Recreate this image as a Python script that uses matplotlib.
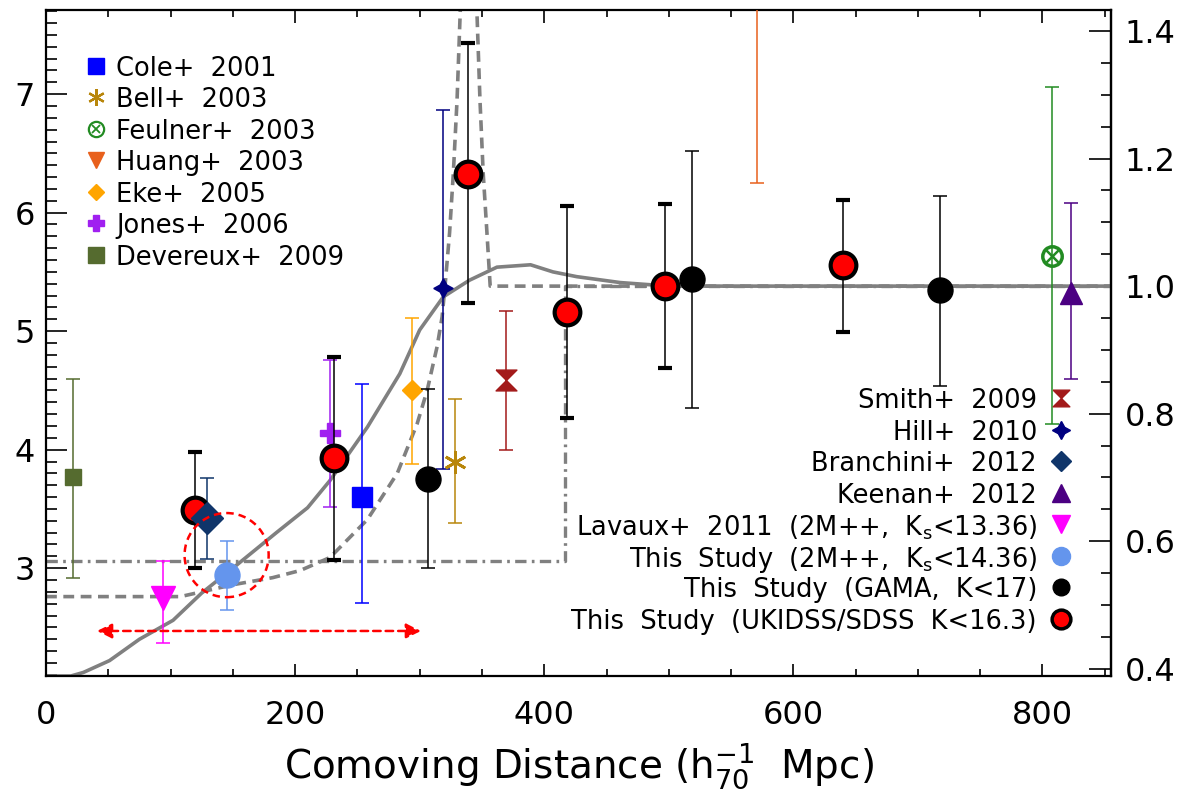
import numpy as np
import matplotlib
matplotlib.use("Agg")
import matplotlib.pyplot as plt
from matplotlib.patches import Ellipse
from matplotlib.ticker import MultipleLocator, FixedLocator, FormatStrFormatter

plt.rcParams['font.family'] = ['DejaVu Sans']
plt.rcParams['mathtext.fontset'] = 'dejavusans'

# global value used to normalise the right-hand axis
RHO_GLOBAL = 5.38

# model curves (distance in h70^-1 Mpc)
smooth_d = [0, 20, 30, 51, 75, 102, 125, 150, 185, 210, 228, 258, 284, 300, 319,
            340, 362, 389, 407, 426, 461, 500, 855]
smooth_rho = [2.09, 2.09, 2.12, 2.22, 2.40, 2.56, 2.79, 3.00, 3.30, 3.51, 3.74, 4.19,
              4.64, 5.01, 5.29, 5.43, 5.54, 5.56, 5.50, 5.46, 5.41, 5.38, 5.38]
spike_d = [0, 108, 129, 150, 182, 204, 228, 258, 282, 298, 306, 314, 318, 320.5, 324,
           327, 330, 332.5, 339.5, 346, 348.4, 351, 354, 356.6, 855]
spike_rho = [2.76, 2.76, 2.81, 2.86, 2.92, 2.98, 3.09, 3.41, 3.80, 4.22, 4.50, 4.87,
             5.12, 5.40, 5.83, 6.33, 6.95, 7.68, 9.6, 7.68, 6.95, 6.33, 5.83, 5.38, 5.38]
step_d = [0, 417, 417, 855]
step_rho = [3.06, 3.06, 5.38, 5.38]

# this study: distance, density, lower, upper
ukidss_d = [120, 231, 339, 418, 497, 640]
ukidss_rho = [3.49, 3.93, 6.33, 5.16, 5.38, 5.56]
ukidss_lo = [3.00, 3.07, 5.24, 4.27, 4.69, 4.99]
ukidss_hi = [3.98, 4.78, 7.43, 6.06, 6.07, 6.11]

gama_d = [307, 519, 718]
gama_rho = [3.75, 5.44, 5.35]
gama_lo = [3.00, 4.35, 4.54]
gama_hi = [4.51, 6.52, 6.14]

twomass = [145, 2.94, 2.65, 3.23]

# literature: distance, density, lower, upper
cole = [254, 3.60, 2.71, 4.55]
bell = [328, 3.90, 3.38, 4.43]
feulner = [808, 5.63, 4.22, 7.06]
huang = [571, 8.60, 6.25, 10.95]
eke = [294, 4.50, 3.88, 5.11]
jones = [228, 4.14, 3.52, 4.76]
devereux = [22, 3.77, 2.92, 4.60]
smith = [369, 4.59, 4.00, 5.17]
hill = [319, 5.36, 3.84, 6.87]
branchini = [129, 3.42, 3.08, 3.76]
keenan = [823, 5.32, 4.60, 6.08]
lavaux = [94, 2.75, 2.37, 3.06]

# extent of the local hole (arrow) and the 2M++ circle
hole_range = [41, 301, 2.47]
circle_c = [145, 3.11]

right_ticks = [0.4, 0.6, 0.8, 1.0, 1.2, 1.4]

left_labels = ['Cole+  2001', 'Bell+  2003', 'Feulner+  2003', 'Huang+  2003',
               'Eke+  2005', 'Jones+  2006', 'Devereux+  2009']
right_labels = ['Smith+  2009', 'Hill+  2010', 'Branchini+  2012', 'Keenan+  2012',
                r'Lavaux+  2011  (2M++,  K$_{\rm s}$<13.36)',
                r'This  Study  (2M++,  K$_{\rm s}$<14.36)',
                'This  Study  (GAMA,  K<17)',
                'This  Study  (UKIDSS/SDSS  K<16.3)']

hourglass = [(-1, 1), (1, 1), (0, 0), (1, -1), (-1, -1), (0, 0), (-1, 1)]

fig = plt.figure(figsize=(11.79, 7.95), dpi=100)
ax = fig.add_axes([46 / 1179, 1 - 676 / 795, (1111 - 46) / 1179, (676 - 10) / 795])

grey = '#808080'
ax.plot(smooth_d, smooth_rho, color=grey, lw=2.6, zorder=2)
ax.plot(spike_d, spike_rho, color=grey, lw=2.6, ls=(0, (3, 1.8)), zorder=2)
ax.plot(step_d, step_rho, color=grey, lw=2.4, ls=(0, (3.4, 1.6, 0.8, 1.6)), zorder=2)

EW = 1.1


def point(rec, color, marker, ms, zorder=4, **kw):
    d, rho, lo, hi = rec
    ax.errorbar([d], [rho], yerr=[[rho - lo], [hi - rho]], fmt='none', ecolor=color,
                elinewidth=EW, capsize=5, capthick=EW, zorder=3)
    ax.plot([d], [rho], ls='none', marker=marker, color=color, ms=ms, zorder=zorder, **kw)


point(devereux, '#556B2F', 's', 11.5)
point(lavaux, '#FF00FF', 'v', 17)
point(twomass, '#6495ED', 'o', 18)
point(jones, '#A020F0', 'P', 14)
point(cole, '#0000FF', 's', 15)
point(eke, '#FFA500', 'D', 9.7)
point(hill, '#000080', (4, 1, 0), 14)
point(bell, '#B8860B', (6, 2, 0), 16, mew=2)
point(smith, '#A31A1A', hourglass, 15)
point(huang, '#E8601C', 'v', 12)
point(keenan, '#4B0082', '^', 16)
point(feulner, '#228B22', 'o', 14, mfc='none', mew=2.5)
ax.plot([feulner[0]], [feulner[1]], ls='none', marker='x', color='#228B22', ms=8,
        mew=1.8, zorder=4)

ax.errorbar(gama_d, gama_rho,
            yerr=[np.subtract(gama_rho, gama_lo), np.subtract(gama_hi, gama_rho)],
            fmt='o', color='black', ms=18, elinewidth=EW, capsize=5, capthick=EW, zorder=4)
ax.errorbar(ukidss_d, ukidss_rho,
            yerr=[np.subtract(ukidss_rho, ukidss_lo), np.subtract(ukidss_hi, ukidss_rho)],
            fmt='o', mfc='red', mec='black', mew=3, ms=18.5, ecolor='black',
            elinewidth=EW, capsize=5, capthick=EW, zorder=4)
point(branchini, '#10356A', 'D', 16, zorder=5)

# local hole: dashed circle and double arrow
ax.add_patch(Ellipse(circle_c, width=67.5, height=0.71, fill=False, ec='red',
                     lw=1.8, ls=(0, (3, 2)), zorder=6))
ax.annotate('', xy=(hole_range[0], hole_range[2]), xytext=(hole_range[1], hole_range[2]),
            arrowprops=dict(arrowstyle='<|-|>', color='red', lw=1.8, ls=(0, (3, 2)),
                            mutation_scale=22, shrinkA=0, shrinkB=0), zorder=6)

ax.set_xlim(0, 855)
ax.set_ylim(2.09, 7.71)
ax.xaxis.set_major_locator(MultipleLocator(200))
ax.xaxis.set_minor_locator(MultipleLocator(50))
ax.yaxis.set_major_locator(MultipleLocator(1))
ax.yaxis.set_minor_locator(MultipleLocator(0.1))
ax.tick_params(which='both', direction='in', top=True, right=False, labelsize=23, width=1.2)
ax.tick_params(axis='x', which='major', length=9, pad=17)
ax.tick_params(axis='x', which='minor', length=5)
ax.tick_params(axis='y', which='major', length=15, pad=8)
ax.tick_params(axis='y', which='minor', length=8)
for s in ax.spines.values():
    s.set_linewidth(1.6)

sec = ax.secondary_yaxis('right', functions=(lambda v: v / RHO_GLOBAL, lambda v: v * RHO_GLOBAL))
sec.yaxis.set_major_locator(FixedLocator(right_ticks))
sec.yaxis.set_minor_locator(FixedLocator(np.arange(0.40, 1.4301, 0.05)))
sec.yaxis.set_major_formatter(FormatStrFormatter('%.1f'))
sec.tick_params(which='both', direction='in', labelsize=23, width=1.2)
sec.tick_params(which='major', length=16, pad=10)
sec.tick_params(which='minor', length=7)
sec.spines['right'].set_linewidth(1.6)

ax.set_xlabel(r'Comoving Distance (h$_{70}^{-1}$  Mpc)', fontsize=28, labelpad=8)

# keys: upper-left block
left_keys = [('s', '#0000FF', 11.5, {}), ((6, 2, 0), '#B8860B', 12, {'mew': 1.6}),
             ('o', '#228B22', 11, {'mfc': 'none', 'mew': 1.6}), ('v', '#E8601C', 12, {}),
             ('D', '#FFA500', 8.5, {}), ('P', '#A020F0', 11.5, {}), ('s', '#556B2F', 11.5, {})]
for i, (lab, (m, c, ms, kw)) in enumerate(zip(left_labels, left_keys)):
    y = 0.916 - i * 0.0473
    ax.plot([0.047], [y], ls='none', marker=m, color=c, ms=ms, transform=ax.transAxes,
            clip_on=False, zorder=7, **kw)
    if m == 'o':
        ax.plot([0.047], [y], ls='none', marker='x', color=c, ms=6, mew=1.3,
                transform=ax.transAxes, zorder=7)
    ax.text(0.0657, y, lab, transform=ax.transAxes, fontsize=18.5, va='center_baseline',
            ha='left')

# keys: lower-right block
right_keys = [(hourglass, '#A31A1A', 12, {}), ((4, 1, 0), '#000080', 13, {}),
              ('D', '#10356A', 10, {}), ('^', '#4B0082', 13, {}), ('v', '#FF00FF', 13, {}),
              ('o', '#6495ED', 13, {}), ('o', 'black', 12, {}),
              ('o', 'red', 13.5, {'mec': 'black', 'mew': 2.5})]
for i, (lab, (m, c, ms, kw)) in enumerate(zip(right_labels, right_keys)):
    y = 0.4174 - i * 0.0474
    ax.plot([0.953], [y], ls='none', marker=m, color=c, ms=ms, transform=ax.transAxes,
            clip_on=False, zorder=7, **kw)
    ax.text(0.9305, y, lab, transform=ax.transAxes, fontsize=18.5, va='center_baseline',
            ha='right')

fig.savefig('out.png', dpi=100)
